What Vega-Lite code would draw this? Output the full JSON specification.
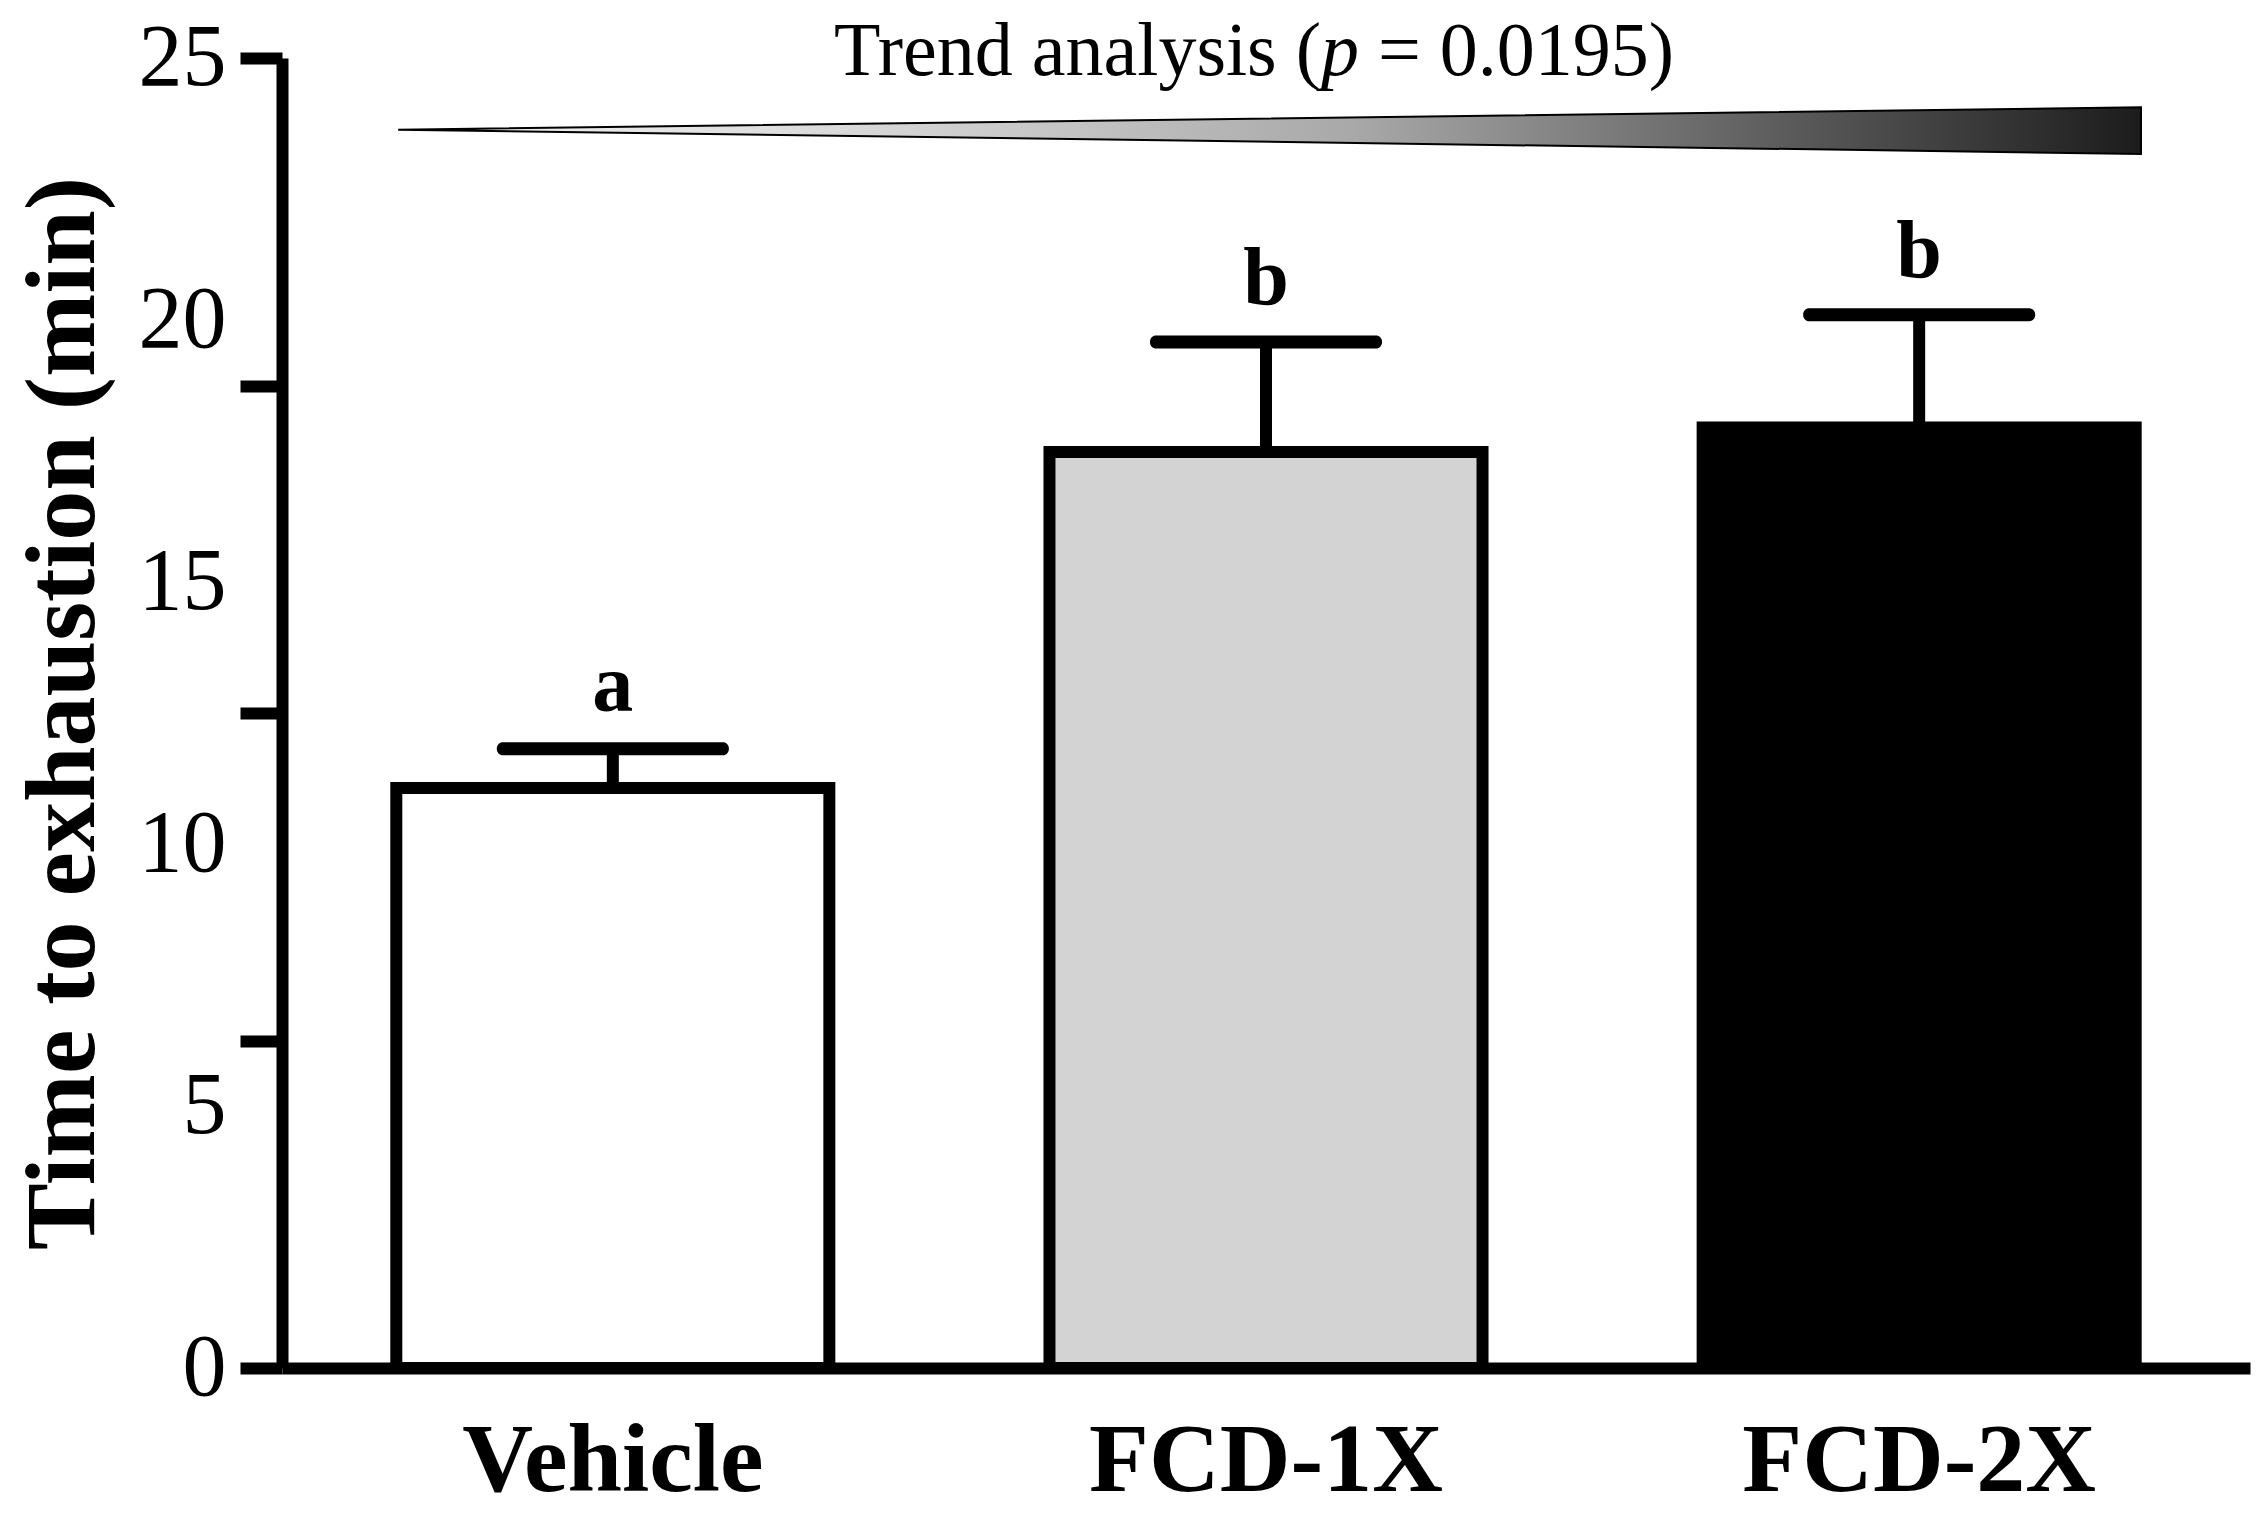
{
  "$schema": "https://vega.github.io/schema/vega-lite/v6.json",
  "width": 1968,
  "height": 1310,
  "autosize": "none",
  "padding": {"left": 282, "top": 58, "right": 18, "bottom": 147},
  "background": "white",
  "datasets": {
    "bars": [
      {"group": "Vehicle", "mean": 11.07, "upper": 11.82, "letter": "a"},
      {"group": "FCD-1X", "mean": 17.48, "upper": 19.58, "letter": "b"},
      {"group": "FCD-2X", "mean": 17.95, "upper": 20.1, "letter": "b"}
    ],
    "wedge": [
      {"pos": 5.9, "top": 23.63, "bottom": 23.63},
      {"pos": 94.46, "top": 24.06, "bottom": 23.17}
    ]
  },
  "layer": [
    {
      "data": {"name": "bars"},
      "encoding": {
        "x": {
          "field": "group",
          "type": "nominal",
          "sort": null,
          "scale": {"paddingInner": 0.337, "paddingOuter": 0.175},
          "axis": {
            "title": null,
            "ticks": false,
            "domainWidth": 12,
            "domainColor": "black",
            "labelAngle": 0,
            "labelFont": "Liberation Serif",
            "labelFontSize": 98,
            "labelFontWeight": "bold",
            "labelColor": "black",
            "labelPadding": 45,
            "labelLimit": 1000
          }
        }
      },
      "layer": [
        {
          "mark": {"type": "bar", "stroke": "black", "strokeWidth": 12, "strokeJoin": "miter"},
          "encoding": {
            "y": {
              "field": "mean",
              "type": "quantitative",
              "scale": {"domain": [0, 25], "nice": false, "zero": true},
              "axis": {
                "orient": "left",
                "values": [0, 5, 10, 15, 20, 25],
                "ticks": false,
                "grid": false,
                "domainWidth": 12,
                "domainColor": "black",
                "labelFont": "Liberation Serif",
                "labelFontSize": 88,
                "labelColor": "black",
                "labelPadding": 56,
                "title": "Time to exhaustion (min)",
                "titleFont": "Liberation Serif",
                "titleFontSize": 100,
                "titleFontWeight": "bold",
                "titleColor": "black",
                "titlePadding": 24
              }
            },
            "fill": {
              "field": "group",
              "type": "nominal",
              "sort": null,
              "scale": {"domain": ["Vehicle", "FCD-1X", "FCD-2X"], "range": ["#ffffff", "#d3d3d3", "#000000"]},
              "legend": null
            }
          }
        },
        {
          "mark": {"type": "rule", "strokeWidth": 12, "color": "black"},
          "encoding": {
            "y": {"field": "mean", "type": "quantitative"},
            "y2": {"field": "upper"}
          }
        },
        {
          "mark": {"type": "tick", "orient": "horizontal", "size": 232, "thickness": 13, "cornerRadius": 6, "color": "black", "opacity": 1},
          "encoding": {
            "y": {"field": "upper", "type": "quantitative"}
          }
        },
        {
          "mark": {"type": "text", "font": "Liberation Serif", "fontWeight": "bold", "fontSize": 82, "dy": -38, "baseline": "alphabetic", "color": "black"},
          "encoding": {
            "y": {"field": "upper", "type": "quantitative"},
            "text": {"field": "letter"}
          }
        }
      ]
    },
    {
      "layer": [
        {
          "data": {"name": "wedge"},
          "mark": {
            "type": "area",
            "interpolate": "linear",
            "stroke": "black",
            "strokeWidth": 2,
            "fill": {
              "gradient": "linear",
              "x1": 0, "y1": 0, "x2": 1, "y2": 0,
              "stops": [
                {"offset": 0, "color": "#f4f4f4"},
                {"offset": 0.25, "color": "#dadada"},
                {"offset": 0.55, "color": "#a8a8a8"},
                {"offset": 1, "color": "#1c1c1c"}
              ]
            }
          },
          "encoding": {
            "x": {"field": "pos", "type": "quantitative", "scale": {"domain": [0, 100]}, "axis": null},
            "y": {
              "field": "top",
              "type": "quantitative",
              "scale": {"domain": [0, 25], "nice": false, "zero": true},
              "axis": {
                "orient": "left",
                "values": [0, 6.25, 12.5, 18.75, 25],
                "labels": false,
                "domain": false,
                "grid": false,
                "ticks": true,
                "tickSize": 42,
                "tickWidth": 12,
                "tickColor": "black",
                "title": null
              }
            },
            "y2": {"field": "bottom"}
          }
        },
        {
          "data": {"values": [{}]},
          "mark": {"type": "text", "text": "Trend analysis (", "align": "right", "dx": -19, "baseline": "alphabetic", "font": "Liberation Serif", "fontSize": 76, "color": "black"},
          "encoding": {
            "x": {"datum": 53.76, "type": "quantitative"},
            "y": {"datum": 24.68, "type": "quantitative"}
          }
        },
        {
          "data": {"values": [{}]},
          "mark": {"type": "text", "text": "p", "align": "center", "baseline": "alphabetic", "font": "Liberation Serif", "fontStyle": "italic", "fontSize": 76, "color": "black"},
          "encoding": {
            "x": {"datum": 53.76, "type": "quantitative"},
            "y": {"datum": 24.68, "type": "quantitative"}
          }
        },
        {
          "data": {"values": [{}]},
          "mark": {"type": "text", "text": "= 0.0195)", "align": "left", "dx": 38, "baseline": "alphabetic", "font": "Liberation Serif", "fontSize": 76, "color": "black"},
          "encoding": {
            "x": {"datum": 53.76, "type": "quantitative"},
            "y": {"datum": 24.68, "type": "quantitative"}
          }
        }
      ]
    }
  ],
  "resolve": {"scale": {"x": "independent", "y": "independent"}},
  "config": {"view": {"stroke": null}, "axis": {"grid": false}}
}
